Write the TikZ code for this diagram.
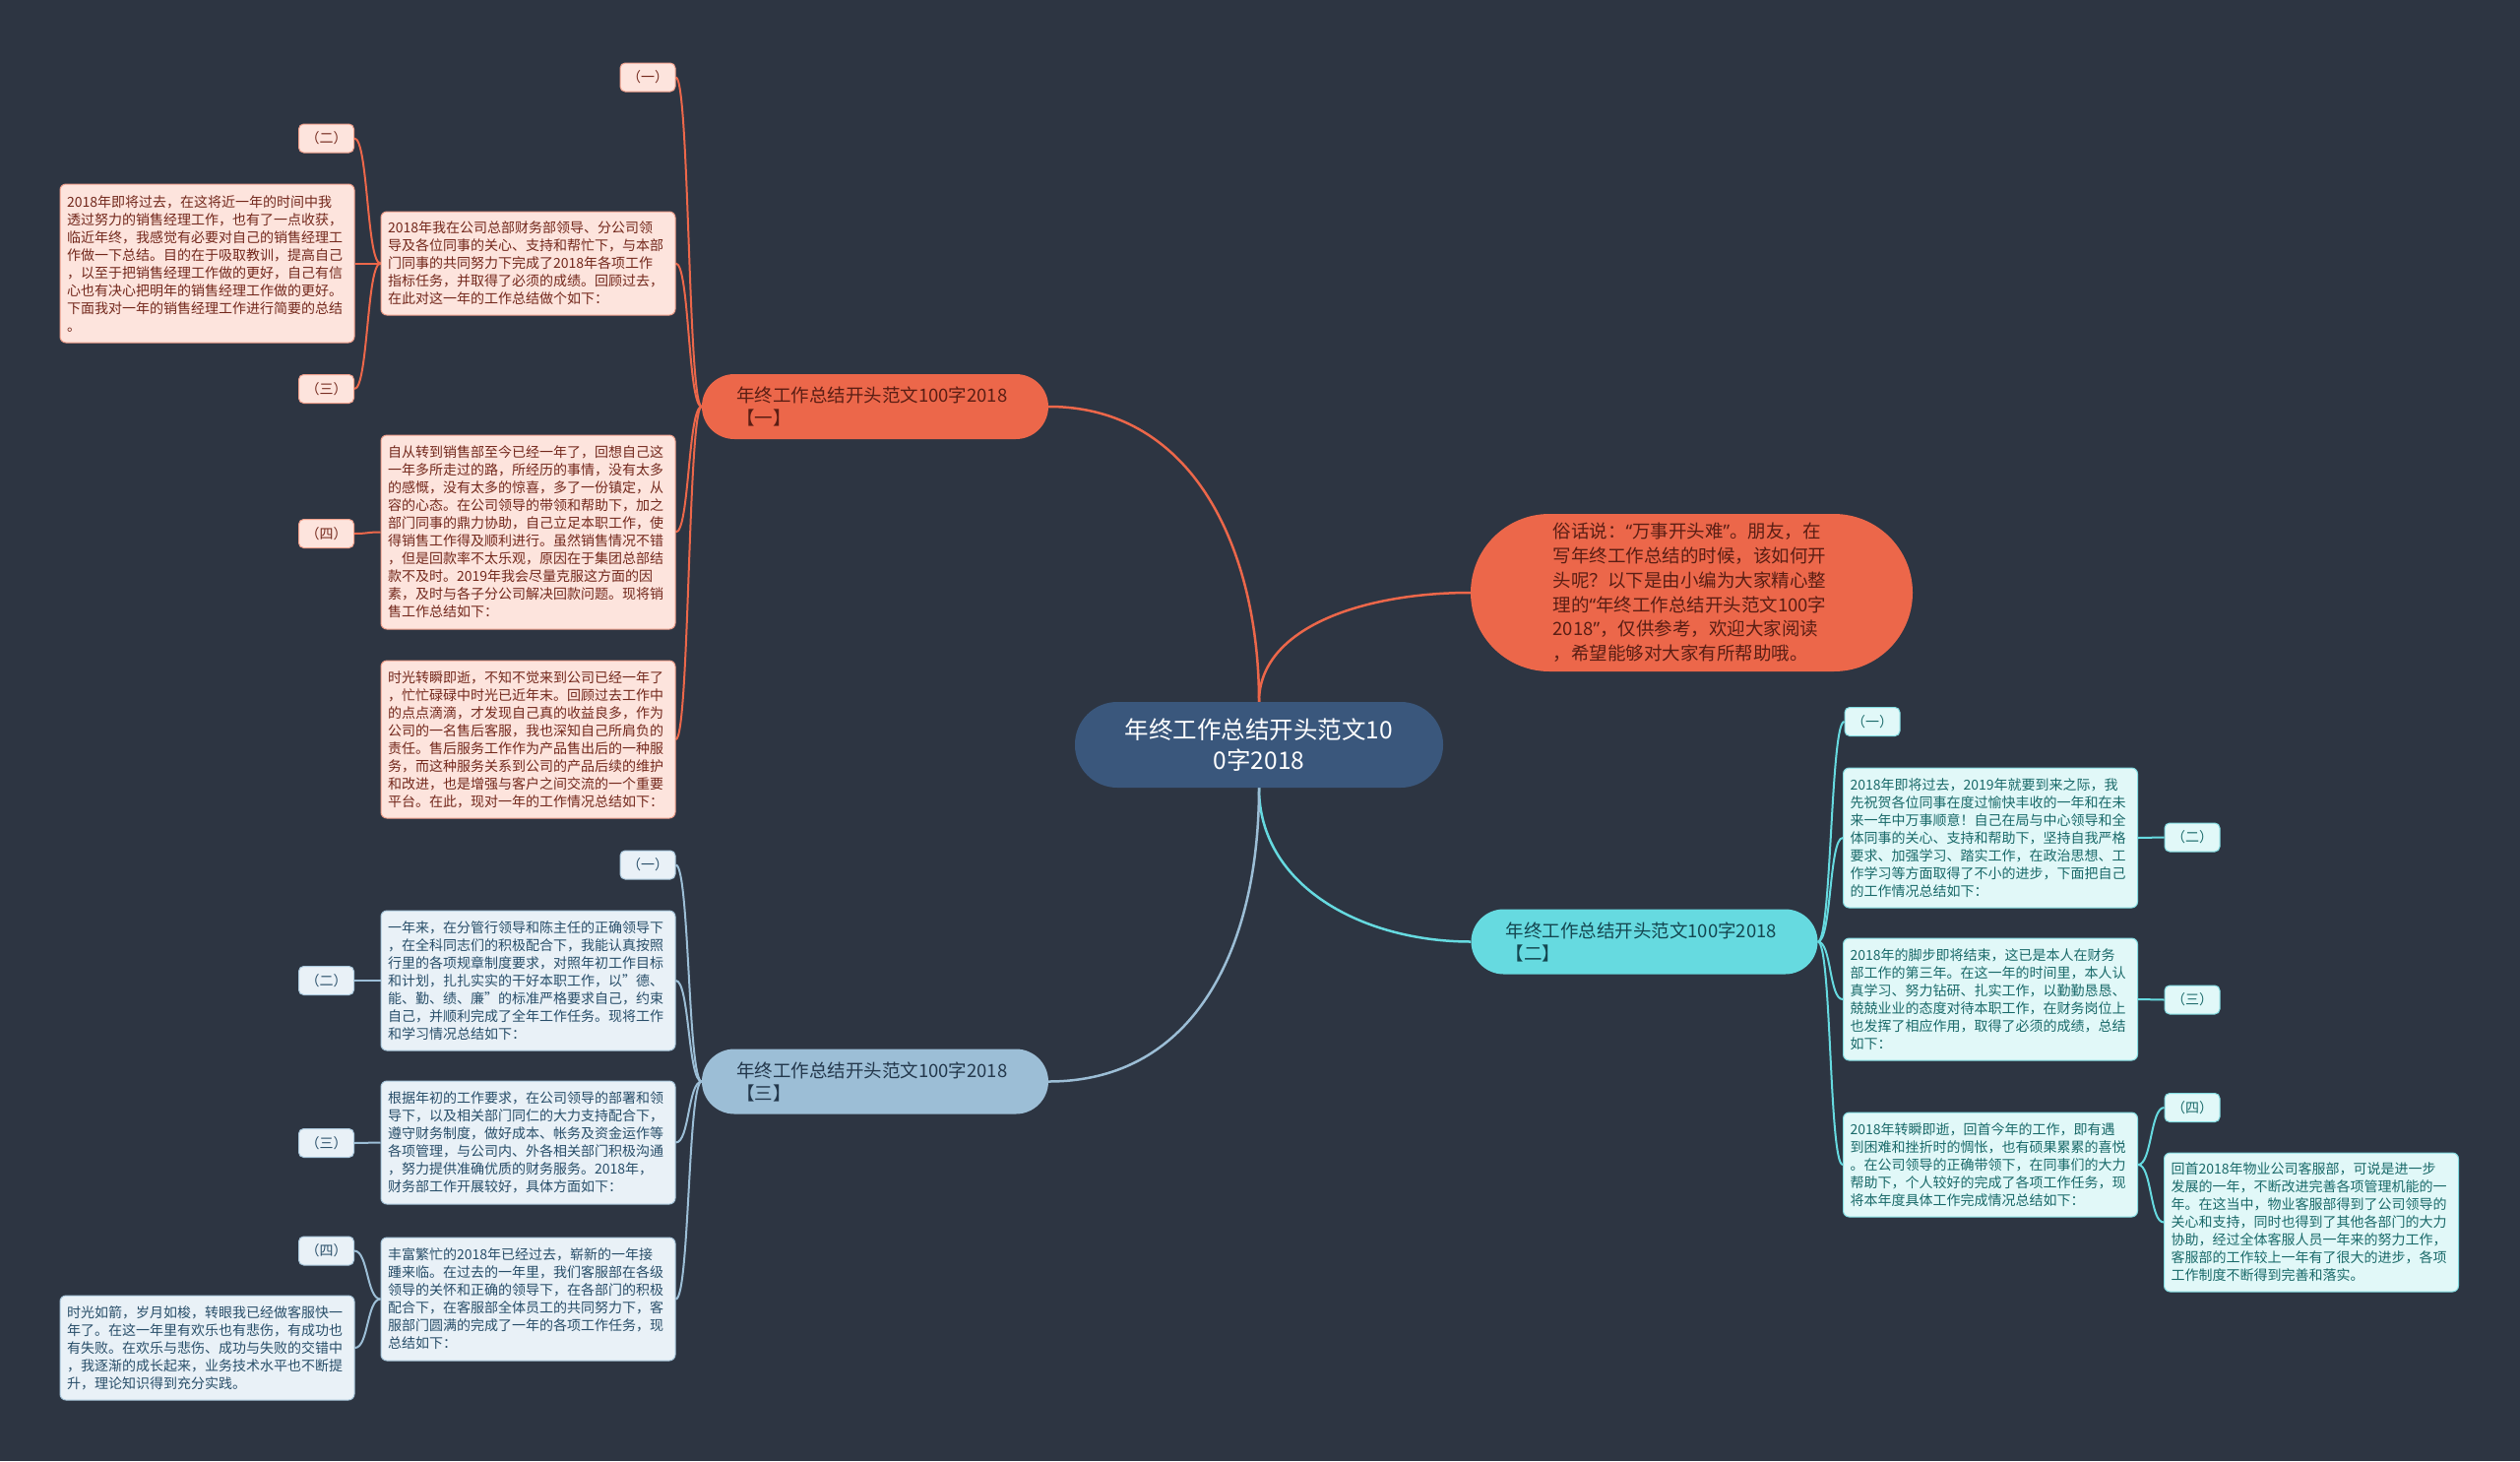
\documentclass[tikz,border=0pt]{standalone}
\usepackage{fontspec}
\setmainfont{Noto Sans CJK SC}
\newfontfamily\latinq{Noto Sans}
\pgfdeclarelayer{bg}
\pgfsetlayers{bg,main}
\definecolor{bgcol}{RGB}{45,53,66}
\definecolor{ccol}{RGB}{58,87,124}
\definecolor{coral}{RGB}{236,103,74}
\definecolor{cyanc}{RGB}{102,218,224}
\definecolor{lblue}{RGB}{156,190,214}
\definecolor{pinkfill}{RGB}{253,228,221}
\definecolor{pinkline}{RGB}{240,160,140}
\definecolor{pinktext}{RGB}{115,40,28}
\definecolor{cyanfill}{RGB}{225,248,248}
\definecolor{cyanline}{RGB}{130,220,225}
\definecolor{cyantext}{RGB}{25,105,105}
\definecolor{bluefill}{RGB}{233,241,247}
\definecolor{blueline}{RGB}{170,200,220}
\definecolor{bluetext}{RGB}{40,78,105}
\definecolor{bonetext}{RGB}{90,30,20}
\definecolor{btwotext}{RGB}{20,70,80}
\definecolor{bthreetext}{RGB}{35,55,75}
\begin{document}
\begin{tikzpicture}[x=1pt,y=-1pt,
  txtbox/.style={rounded corners=6pt, line width=1pt, text width=285pt, inner xsep=7pt, inner ysep=0pt, align=left, font=\fontsize{14}{18}\selectfont},
  pbox/.style={txtbox, draw=pinkline, fill=pinkfill, text=pinktext},
  cbox/.style={txtbox, draw=cyanline, fill=cyanfill, text=cyantext},
  bbox/.style={txtbox, draw=blueline, fill=bluefill, text=bluetext},
  labbox/.style={rounded corners=5pt, line width=1pt, minimum width=56pt, minimum height=29pt, inner sep=0pt, font=\fontsize{14}{14}\selectfont},
  plab/.style={labbox, draw=pinkline, fill=pinkfill, text=pinktext},
  clab/.style={labbox, draw=cyanline, fill=cyanfill, text=cyantext},
  blab/.style={labbox, draw=blueline, fill=bluefill, text=bluetext},
  branch/.style={rounded corners=33pt, minimum height=66pt, text width=282pt, inner xsep=35pt, inner ysep=0pt, align=left, font=\fontsize{18.5}{23}\selectfont},
  cnode/.style={fill=ccol, text=white, rounded corners=43pt, minimum width=374pt, minimum height=87pt, inner sep=0pt, align=center, font=\fontsize{24.5}{31}\selectfont},
  intro/.style={fill=coral, text=bonetext, rounded corners=80pt, minimum width=449pt, minimum height=160pt, text width=282pt, inner sep=0pt, align=left, font=\fontsize{18.5}{24.8}\selectfont},
  oline/.style={draw=coral, line width=2pt},
  cline/.style={draw=cyanc, line width=2pt},
  bline/.style={draw=lblue, line width=2pt},
  mainline/.style={line width=2.5pt}
]
\useasboundingbox (0,0) rectangle (2560,1484);
\begin{pgfonlayer}{bg}
\fill[bgcol] (0,0) rectangle (2560,1484);
\end{pgfonlayer}

% central
\node[cnode] (c) at (1279,756.5) {年终工作总结开头范文10\\0字2018};

% branches
\node[branch, fill=coral, text=bonetext] (b1) at (889,413) {年终工作总结开头范文100字2018\\【一】};
\node[branch, fill=cyanc, text=btwotext] (b2) at (1670.5,956.5) {年终工作总结开头范文100字2018\\【二】};
\node[branch, fill=lblue, text=bthreetext] (b3) at (889,1098.5) {年终工作总结开头范文100字2018\\【三】};
\node[intro] (in) at (1718.5,602) {俗话说：{\latinq “}万事开头难{\latinq ”}。朋友，在\\写年终工作总结的时候，该如何开\\头呢？以下是由小编为大家精心整\\理的{\latinq “}年终工作总结开头范文100字\\2018{\latinq ”}，仅供参考，欢迎大家阅读\\，希望能够对大家有所帮助哦。};

% branch 1 children
\node[plab] (l1a) at (658,78.5) {（一）};
\node[pbox, minimum height=105pt] (p1) at (536.5,267.5) {2018年我在公司总部财务部领导、分公司领\\导及各位同事的关心、支持和帮忙下，与本部\\门同事的共同努力下完成了2018年各项工作\\指标任务，并取得了必须的成绩。回顾过去，\\在此对这一年的工作总结做个如下：};
\node[pbox, minimum height=197pt] (p2) at (536.5,540.5) {自从转到销售部至今已经一年了，回想自己这\\一年多所走过的路，所经历的事情，没有太多\\的感慨，没有太多的惊喜，多了一份镇定，从\\容的心态。在公司领导的带领和帮助下，加之\\部门同事的鼎力协助，自己立足本职工作，使\\得销售工作得及顺利进行。虽然销售情况不错\\，但是回款率不太乐观，原因在于集团总部结\\款不及时。2019年我会尽量克服这方面的因\\素，及时与各子分公司解决回款问题。现将销\\售工作总结如下：};
\node[pbox, minimum height=160pt] (p3) at (536.5,751) {时光转瞬即逝，不知不觉来到公司已经一年了\\，忙忙碌碌中时光已近年末。回顾过去工作中\\的点点滴滴，才发现自己真的收益良多，作为\\公司的一名售后客服，我也深知自己所肩负的\\责任。售后服务工作作为产品售出后的一种服\\务，而这种服务关系到公司的产品后续的维护\\和改进，也是增强与客户之间交流的一个重要\\平台。在此，现对一年的工作情况总结如下：};
\node[pbox, minimum height=161pt] (p0) at (210.5,267.5) {2018年即将过去，在这将近一年的时间中我\\透过努力的销售经理工作，也有了一点收获，\\临近年终，我感觉有必要对自己的销售经理工\\作做一下总结。目的在于吸取教训，提高自己\\，以至于把销售经理工作做的更好，自己有信\\心也有决心把明年的销售经理工作做的更好。\\下面我对一年的销售经理工作进行简要的总结\\。};
\node[plab] (l1b) at (331.5,140.5) {（二）};
\node[plab] (l1c) at (331.5,395) {（三）};
\node[plab] (l1d) at (331.5,542) {（四）};

% branch 2 children
\node[clab] (l2a) at (1902,733) {（一）};
\node[cbox, minimum height=142pt] (d1) at (2022,851) {2018年即将过去，2019年就要到来之际，我\\先祝贺各位同事在度过愉快丰收的一年和在未\\来一年中万事顺意！自己在局与中心领导和全\\体同事的关心、支持和帮助下，坚持自我严格\\要求、加强学习、踏实工作，在政治思想、工\\作学习等方面取得了不小的进步，下面把自己\\的工作情况总结如下：};
\node[cbox, minimum height=124pt] (d2) at (2022,1015) {2018年的脚步即将结束，这已是本人在财务\\部工作的第三年。在这一年的时间里，本人认\\真学习、努力钻研、扎实工作，以勤勤恳恳、\\兢兢业业的态度对待本职工作，在财务岗位上\\也发挥了相应作用，取得了必须的成绩，总结\\如下：};
\node[cbox, minimum height=106pt] (d3) at (2022,1183) {2018年转瞬即逝，回首今年的工作，即有遇\\到困难和挫折时的惆怅，也有硕果累累的喜悦\\。在公司领导的正确带领下，在同事们的大力\\帮助下，个人较好的完成了各项工作任务，现\\将本年度具体工作完成情况总结如下：};
\node[cbox, minimum height=141pt] (d4) at (2348,1241.5) {回首2018年物业公司客服部，可说是进一步\\发展的一年，不断改进完善各项管理机能的一\\年。在这当中，物业客服部得到了公司领导的\\关心和支持，同时也得到了其他各部门的大力\\协助，经过全体客服人员一年来的努力工作，\\客服部的工作较上一年有了很大的进步，各项\\工作制度不断得到完善和落实。};
\node[clab] (l2b) at (2227,850.5) {（二）};
\node[clab] (l2c) at (2227,1015.5) {（三）};
\node[clab] (l2d) at (2227,1125) {（四）};

% branch 3 children
\node[blab] (l3a) at (658,878.5) {（一）};
\node[bbox, minimum height=142pt] (e1) at (536.5,996) {一年来，在分管行领导和陈主任的正确领导下\\，在全科同志们的积极配合下，我能认真按照\\行里的各项规章制度要求，对照年初工作目标\\和计划，扎扎实实的干好本职工作，以"德、\\能、勤、绩、廉"的标准严格要求自己，约束\\自己，并顺利完成了全年工作任务。现将工作\\和学习情况总结如下：};
\node[bbox, minimum height=125pt] (e2) at (536.5,1160.5) {根据年初的工作要求，在公司领导的部署和领\\导下，以及相关部门同仁的大力支持配合下，\\遵守财务制度，做好成本、帐务及资金运作等\\各项管理，与公司内、外各相关部门积极沟通\\，努力提供准确优质的财务服务。2018年，\\财务部工作开展较好，具体方面如下：};
\node[bbox, minimum height=125pt] (e3) at (536.5,1319.5) {丰富繁忙的2018年已经过去，崭新的一年接\\踵来临。在过去的一年里，我们客服部在各级\\领导的关怀和正确的领导下，在各部门的积极\\配合下，在客服部全体员工的共同努力下，客\\服部门圆满的完成了一年的各项工作任务，现\\总结如下：};
\node[bbox, minimum height=106pt] (e0) at (210.5,1369) {时光如箭，岁月如梭，转眼我已经做客服快一\\年了。在这一年里有欢乐也有悲伤，有成功也\\有失败。在欢乐与悲伤、成功与失败的交错中\\，我逐渐的成长起来，业务技术水平也不断提\\升，理论知识得到充分实践。};
\node[blab] (l3b) at (331.5,996) {（二）};
\node[blab] (l3c) at (331.5,1161) {（三）};
\node[blab] (l3d) at (331.5,1270.5) {（四）};

\begin{pgfonlayer}{bg}
% main connectors
\draw[oline, mainline] (c.north) .. controls +(0,-150) and +(150,0) .. (b1.east);
\draw[oline, mainline] (c.north) .. controls +(0,-75) and +(-110,0) .. (in.west);
\draw[cline, mainline] (c.south) .. controls +(0,100) and +(-110,0) .. (b2.west);
\draw[bline, mainline] (c.south) .. controls +(0,160) and +(150,0) .. (b3.east);
% branch 1
\foreach \n in {l1a,p1,p2,p3}
  \draw[oline] (b1.west) .. controls +(-14,0) and +(14,0) .. (\n.east);
\foreach \n in {l1b,p0,l1c}
  \draw[oline] (p1.west) .. controls +(-14,0) and +(14,0) .. (\n.east);
\draw[oline] (p2.west) .. controls +(-14,0) and +(14,0) .. (l1d.east);
% branch 2
\foreach \n in {l2a,d1,d2,d3}
  \draw[cline] (b2.east) .. controls +(14,0) and +(-14,0) .. (\n.west);
\draw[cline] (d1.east) .. controls +(14,0) and +(-14,0) .. (l2b.west);
\draw[cline] (d2.east) .. controls +(14,0) and +(-14,0) .. (l2c.west);
\foreach \n in {l2d,d4}
  \draw[cline] (d3.east) .. controls +(14,0) and +(-14,0) .. (\n.west);
% branch 3
\foreach \n in {l3a,e1,e2,e3}
  \draw[bline] (b3.west) .. controls +(-14,0) and +(14,0) .. (\n.east);
\draw[bline] (e1.west) .. controls +(-14,0) and +(14,0) .. (l3b.east);
\draw[bline] (e2.west) .. controls +(-14,0) and +(14,0) .. (l3c.east);
\foreach \n in {l3d,e0}
  \draw[bline] (e3.west) .. controls +(-14,0) and +(14,0) .. (\n.east);
\end{pgfonlayer}
\end{tikzpicture}
\end{document}
